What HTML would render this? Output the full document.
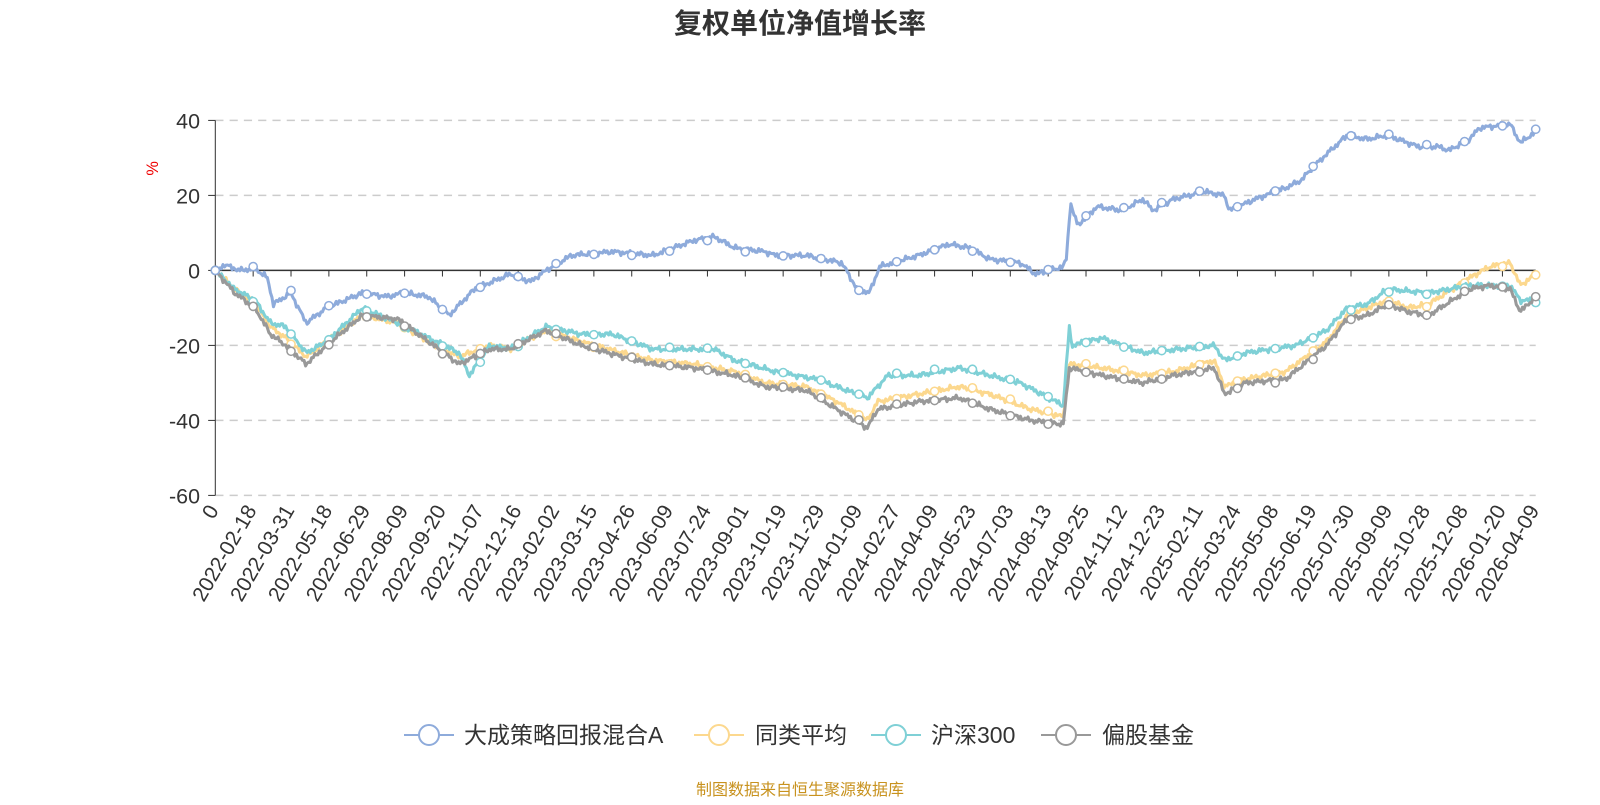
<!DOCTYPE html>
<html><head><meta charset="utf-8"><style>
html,body{margin:0;padding:0;background:#fff;}
svg text{font-family:"Liberation Sans","Noto Sans CJK SC",sans-serif;}
</style></head><body>
<svg id="c" width="1600" height="800" xmlns="http://www.w3.org/2000/svg">
<text x="800" y="33" text-anchor="middle" font-size="28" font-weight="bold" fill="#333">复权单位净值增长率</text>
<g transform="scale(1.0204)">
<text x="150" y="160" font-size="16" fill="#e00" transform="rotate(-90 155 160)" text-anchor="middle">%</text>
<g id="grid"></g>
<g id="series"></g>
</g>
<g id="legend" font-size="23" fill="#333">
<line x1="404" y1="735" x2="454" y2="735" stroke="#8eabdb" stroke-width="2"/><circle cx="429" cy="735" r="10" fill="#fff" stroke="#8eabdb" stroke-width="2"/><text x="464" y="743">大成策略回报混合A</text>
<line x1="694" y1="735" x2="744" y2="735" stroke="#fcd88e" stroke-width="2"/><circle cx="719" cy="735" r="10" fill="#fff" stroke="#fcd88e" stroke-width="2"/><text x="755" y="743">同类平均</text>
<line x1="871" y1="735" x2="921" y2="735" stroke="#7fd0d6" stroke-width="2"/><circle cx="896" cy="735" r="10" fill="#fff" stroke="#7fd0d6" stroke-width="2"/><text x="931" y="743">沪深300</text>
<line x1="1041" y1="735" x2="1091" y2="735" stroke="#999" stroke-width="2"/><circle cx="1066" cy="735" r="10" fill="#fff" stroke="#999" stroke-width="2"/><text x="1102" y="743">偏股基金</text>
</g>
<text x="800" y="795" text-anchor="middle" font-size="16" fill="#c8921e">制图数据来自恒生聚源数据库</text>
</svg>
<script>
var NS="http://www.w3.org/2000/svg";
function Y(v){return 265-v*3.675;}
function el(t,a,p){var e=document.createElementNS(NS,t);for(var k in a)e.setAttribute(k,a[k]);p.appendChild(e);return e;}
var g=document.getElementById('grid'),s=document.getElementById('series');
[40,20,0,-20,-40,-60].forEach(function(v){
 if(v!==0) el('line',{x1:211,x2:1505,y1:Y(v),y2:Y(v),stroke:'#ccc','stroke-dasharray':'8,6','stroke-width':1.5},g);
 el('line',{x1:204,x2:211,y1:Y(v),y2:Y(v),stroke:'#333'},g);
 var t=el('text',{x:196,y:Y(v)+8,'text-anchor':'end','font-size':21,fill:'#333'},g);t.textContent=v;
});
el('line',{x1:211,x2:211,y1:Y(40),y2:Y(-60),stroke:'#333'},g);
el('line',{x1:211,x2:1505,y1:265,y2:265,stroke:'#333','stroke-width':1.5},g);
var labs=["0","2022-02-18","2022-03-31","2022-05-18","2022-06-29","2022-08-09","2022-09-20","2022-11-07","2022-12-16","2023-02-02","2023-03-15","2023-04-26","2023-06-09","2023-07-24","2023-09-01","2023-10-19","2023-11-29","2024-01-09","2024-02-27","2024-04-09","2024-05-23","2024-07-03","2024-08-13","2024-09-25","2024-11-12","2024-12-23","2025-02-11","2025-03-24","2025-05-08","2025-06-19","2025-07-30","2025-09-09","2025-10-28","2025-12-08","2026-01-20","2026-04-09"];
labs.forEach(function(l,i){
 var x=i<35?211+i*37.1:1505;
 el('line',{x1:x,x2:x,y1:265,y2:271,stroke:'#333'},g);
 var t=el('text',{x:x+4,y:500,'text-anchor':'end','font-size':20.5,fill:'#333',transform:'rotate(-60 '+(x+4)+' 500)'},g);t.textContent=l;
});
function P(a){var r=[];for(var i=0;i<a.length;i+=2)r.push([a[i],a[i+1]]);return r;}
var blue=P([211,0,220,1.5,235,0,250,0.5,262,-2,268,-9,285,-6,300,-14,320,-10,355,-6,380,-7,395,-6,420,-7,440,-12,465,-5,500,-1,520,-3,535,0,560,4,600,5,640,4,680,8,700,9,720,6,750,5,760,4,790,4,825,2,840,-5,852,-6,862,1,900,4,930,7,950,6,970,3,1000,2,1015,-1,1042,1,1045,3,1049,18,1056,12,1075,17,1100,16,1120,19,1130,16,1150,19,1180,21,1200,20,1205,16,1230,19,1260,22,1275,24,1285,27,1300,31,1320,36,1340,35,1360,36,1390,33,1410,33,1420,32,1440,35,1450,38,1480,39,1490,34,1505,37]);
var gray=P([211,0,230,-6,250,-10,265,-17,280,-20,300,-25,320,-20,355,-12,390,-13,420,-19,450,-25,480,-21,500,-21,535,-16,570,-20,610,-23,640,-25,680,-26,720,-28,750,-31,790,-32,820,-37,850,-42,860,-37,900,-35,940,-34,970,-37,1010,-40,1042,-41,1048,-26,1080,-28,1120,-30,1150,-28,1190,-26,1200,-33,1220,-30,1260,-29,1300,-20,1320,-13,1340,-12,1360,-9,1380,-11,1400,-12,1440,-5,1460,-4,1480,-5,1490,-11,1505,-7]);
var yel=P([211,0,230,-5,250,-9,265,-15,280,-18,300,-23,320,-19,355,-12,390,-14,420,-19,450,-23,480,-20,500,-21,535,-16,570,-19,610,-22,640,-24,680,-25,720,-27,750,-30,790,-31,820,-35,850,-40,860,-35,900,-33,940,-31,970,-33,1010,-37,1042,-39,1048,-25,1080,-26,1120,-28,1150,-27,1190,-24,1200,-31,1220,-29,1260,-27,1300,-19,1320,-12,1340,-10,1360,-8,1380,-10,1400,-9,1440,-2,1460,1,1480,2,1490,-4,1505,-1]);
var cyan=P([211,0,230,-5,250,-8,265,-14,280,-15,300,-22,320,-19,355,-10,390,-14,420,-18,450,-22,460,-28,480,-20,500,-21,535,-15,570,-17,600,-17,640,-21,700,-21,720,-24,760,-27,800,-29,840,-33,850,-34,870,-28,900,-28,940,-26,1000,-30,1042,-36,1048,-15,1050,-20,1080,-18,1120,-22,1190,-20,1200,-24,1220,-22,1270,-20,1300,-16,1320,-10,1340,-9,1360,-5,1400,-6,1440,-4,1480,-4,1490,-8,1505,-8]);
function interp(k,x){for(var i=1;i<k.length;i++){if(x<=k[i][0]){var a=k[i-1],b=k[i];return a[1]+(b[1]-a[1])*(x-a[0])/(b[0]-a[0]);}}return k[k.length-1][1];}
function noise(x,seed){return 0.7*Math.sin(x*1.7+seed)+0.5*Math.sin(x*0.53+seed*2)+0.3*Math.sin(x*3.1+seed*3);}
function draw(k,col,seed){
 var pts=[];for(var x=211;x<=1505;x+=1.5){var v=interp(k,x)+(x>214?noise(x,seed)*0.6:0);pts.push(x.toFixed(1)+','+Y(v).toFixed(1));}
 el('polyline',{points:pts.join(' '),fill:'none',stroke:col,'stroke-width':3,'stroke-linejoin':'round'},s);
 for(var x=211;x<=1505;x+=37.1){var v=interp(k,x)+(x>214?noise(x,seed)*0.6:0);el('circle',{cx:x,cy:Y(v),r:4,fill:'#fff',stroke:col,'stroke-width':1.5},s);}
 var v=interp(k,1505)+noise(1505,seed)*0.6;el('circle',{cx:1505,cy:Y(v),r:4,fill:'#fff',stroke:col,'stroke-width':1.5},s);
}
draw(yel,'#fcd88e',2);draw(cyan,'#7fd0d6',3);draw(gray,'#999',4);draw(blue,'#8eabdb',1);
</script>
</body></html>
